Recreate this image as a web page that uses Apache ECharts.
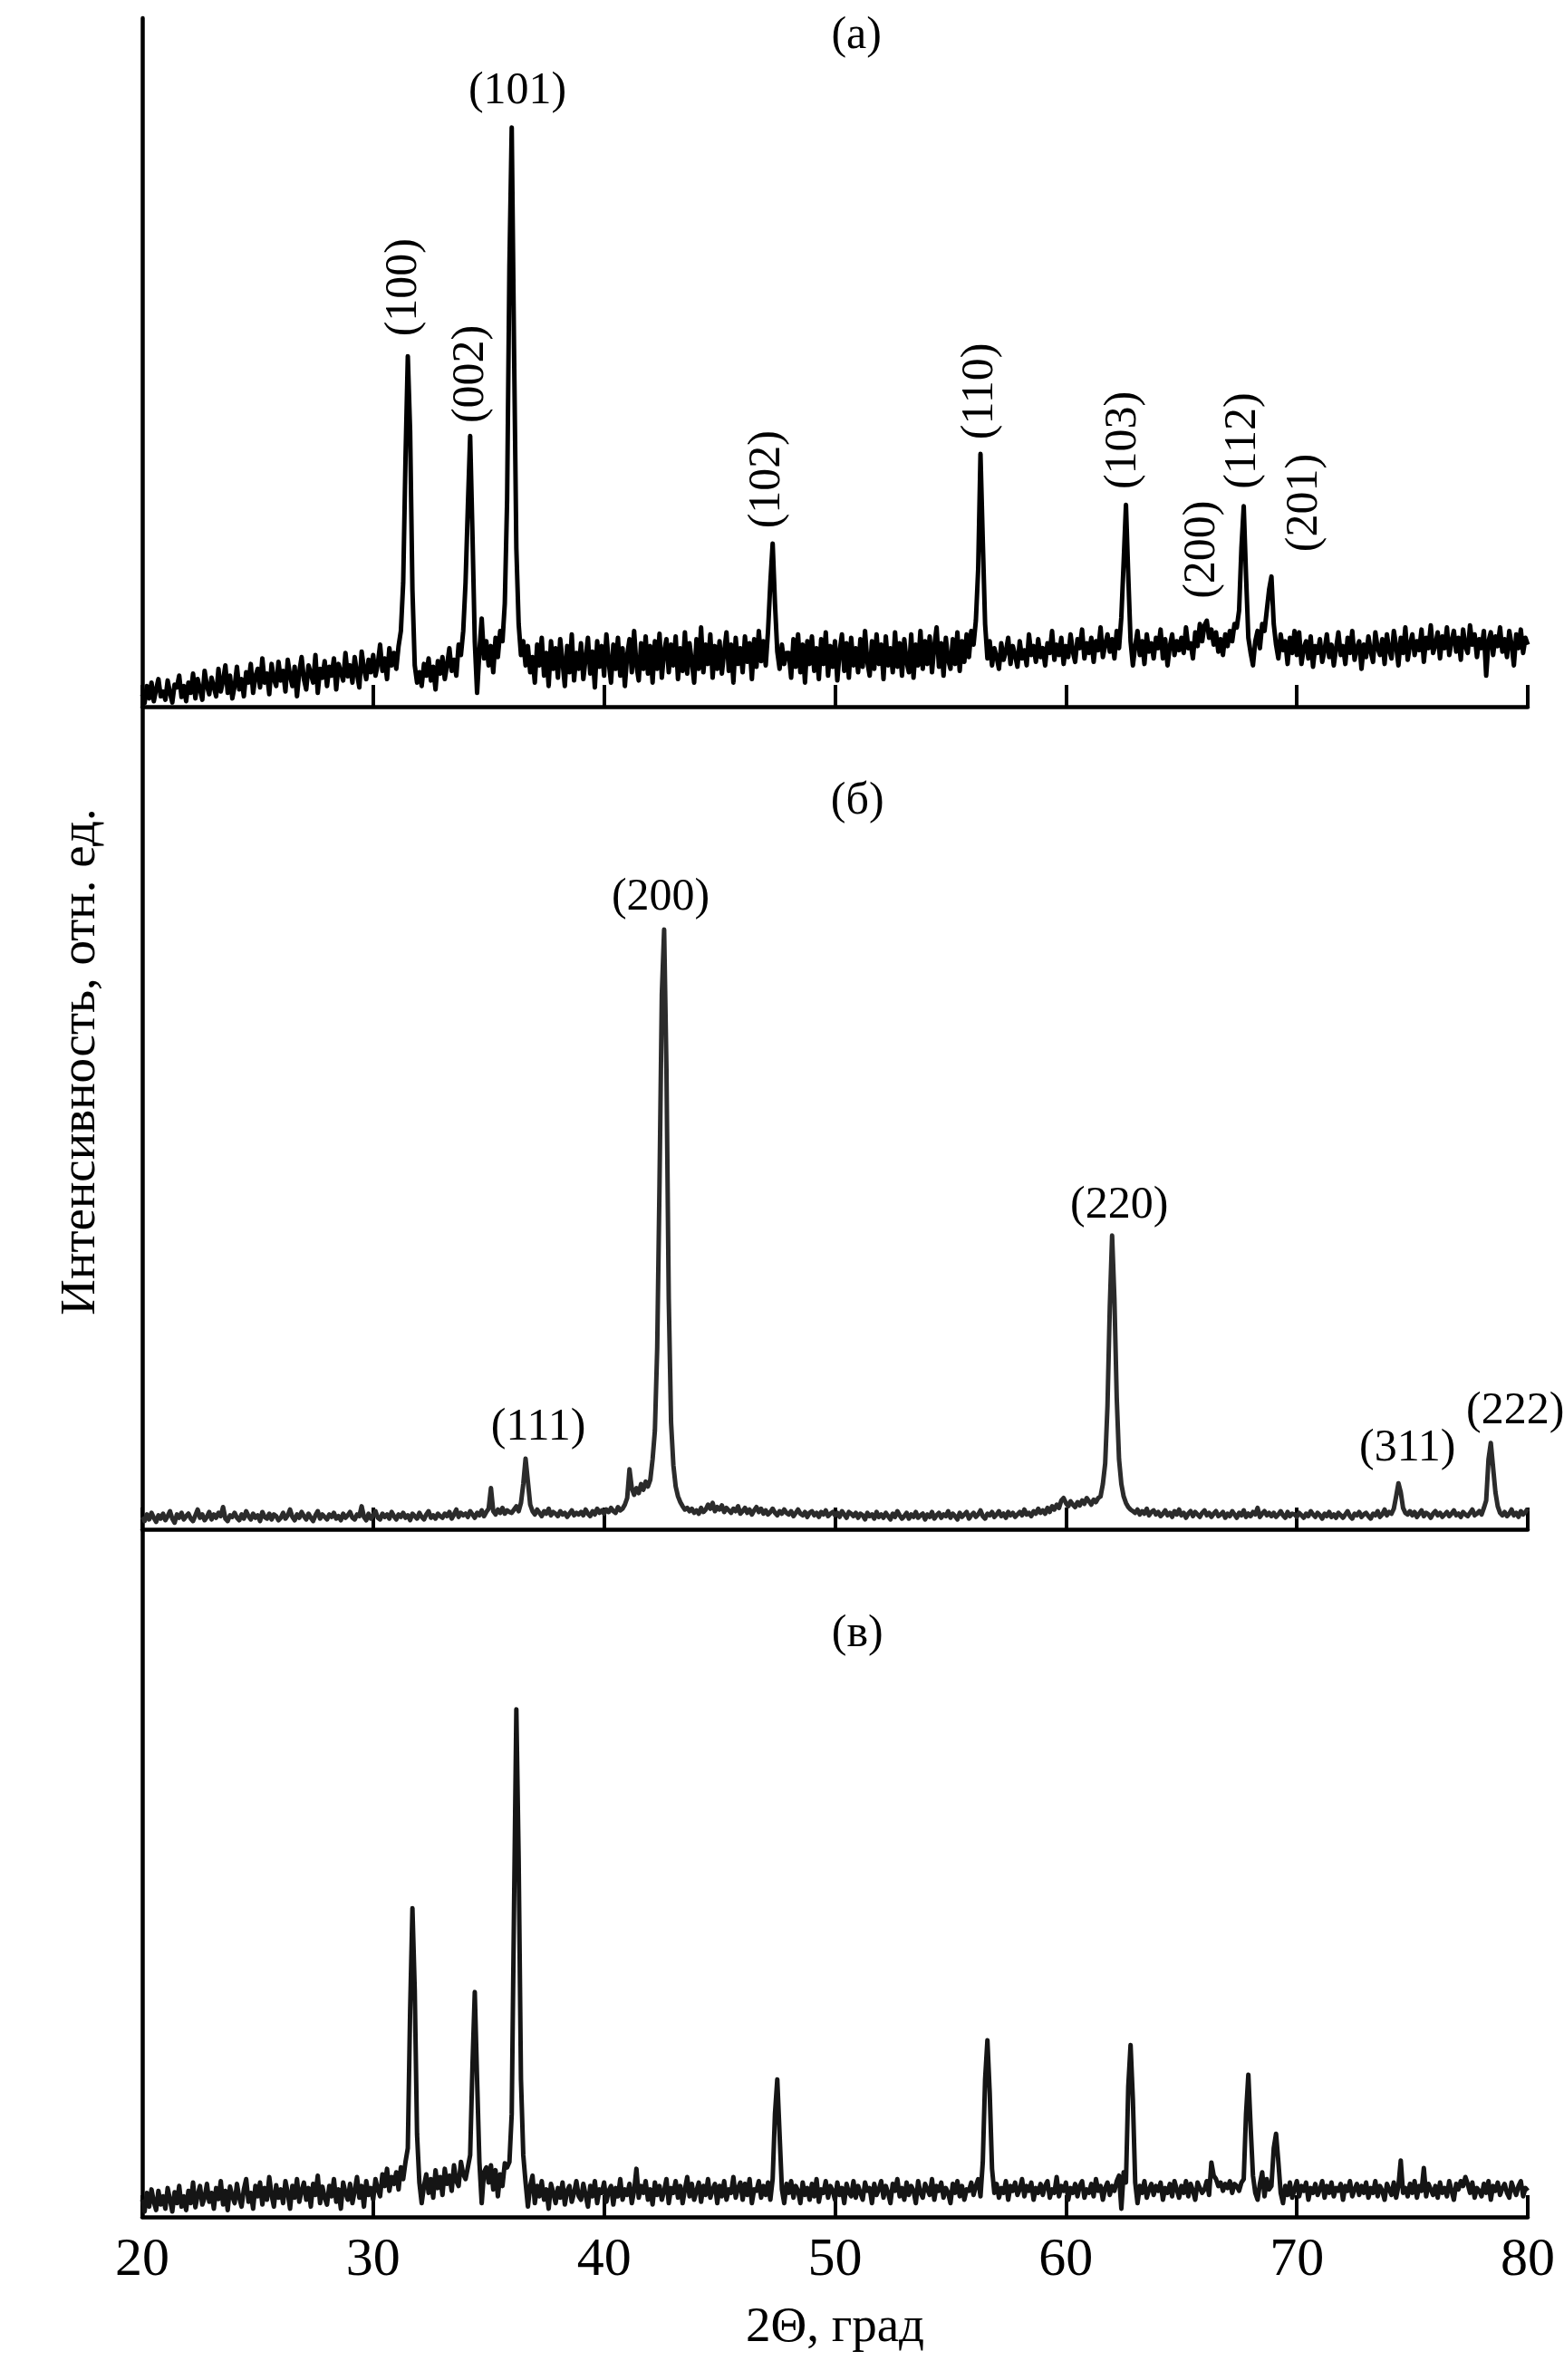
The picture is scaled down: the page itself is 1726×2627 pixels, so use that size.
<!DOCTYPE html>
<html>
<head>
<meta charset="utf-8">
<script src="https://cdn.jsdelivr.net/npm/echarts@6/dist/echarts.min.js"></script>
<style>
html,body{margin:0;padding:0;background:#fff;}
#chart{width:1726px;height:2627px;}
</style>
</head>
<body>
<div id="chart"></div>
<script>
// 2θ grid: 20.0 .. 80.0 step 0.1 (601 samples per pattern)
const thetaStart = 20, thetaStep = 0.1;
const xTicks = [20, 30, 40, 50, 60, 70, 80];

// Pattern (а) intensities, rows of 1°
const intensA = [
18,5,30,12,35,8,25,40,15,22,
10,38,20,6,32,28,45,14,30,8,
35,20,48,12,40,25,10,52,30,18,
42,28,15,55,22,38,60,20,45,12,
30,58,25,40,15,50,35,62,20,44,
55,28,70,35,48,18,62,40,30,65,
38,52,22,68,45,30,58,15,50,72,
40,25,60,48,35,75,20,55,42,66,
30,58,45,70,25,62,50,38,78,44,
60,35,72,48,28,80,55,40,68,50,
75,45,62,90,52,70,40,85,60,78,
55,88,110,180,360,509,400,170,60,35,
50,30,62,45,70,38,58,25,66,48,
72,40,60,85,52,68,45,90,75,110,
180,290,393,250,95,20,80,128,70,95,
60,88,50,100,72,110,95,150,300,640,
841,520,230,120,75,95,60,88,50,72,
35,90,60,100,45,78,30,95,55,85,
42,98,65,30,88,50,105,38,78,55,
92,40,70,100,48,80,28,95,58,88,
45,105,65,35,90,55,100,45,85,30,
75,98,50,110,60,38,92,55,102,48,
88,35,95,55,106,42,80,98,50,90,
60,102,40,85,52,108,48,92,65,35,
98,55,115,50,90,62,105,42,88,55,
95,48,80,108,52,90,35,100,62,85,
50,102,65,92,40,98,58,110,66,95,
60,110,180,237,150,80,55,90,62,78,
78,42,98,58,105,50,90,35,95,62,
102,52,85,40,98,62,108,45,88,58,
95,38,80,105,52,92,42,100,60,85,
50,98,58,110,65,45,95,55,105,62,
90,40,102,60,85,50,108,58,92,45,
98,65,50,105,42,90,60,110,55,95,
62,102,50,88,115,58,92,45,100,68,
55,98,62,108,52,95,65,105,72,110,
90,125,200,367,240,120,70,95,60,85,
72,55,92,68,80,100,62,88,75,58,
95,70,82,60,105,75,88,65,98,72,
85,60,92,78,110,68,90,75,100,62,
88,72,105,80,65,98,85,112,70,92,
78,100,65,95,82,115,72,90,105,80,
98,70,110,85,130,210,293,190,95,60,
88,110,75,95,62,105,80,92,70,100,
85,112,70,98,60,88,105,75,95,82,
100,78,115,85,92,70,108,88,120,95,
118,125,100,112,90,108,80,98,75,105,
88,110,95,120,115,140,230,291,190,100,
78,60,95,110,85,120,110,140,170,189,
120,90,70,105,82,95,62,100,78,110,
75,108,62,85,95,70,102,58,88,78,
98,65,82,105,72,90,60,85,108,75,
88,62,100,78,110,68,85,95,55,90,
72,102,80,65,108,85,75,98,62,105,
82,70,110,88,60,100,78,115,68,90,
105,75,95,82,112,65,100,85,118,78,
90,108,70,102,85,115,75,95,110,80,
100,68,112,88,78,118,90,105,72,98,
85,110,45,95,108,75,102,88,115,80,
98,72,110,90,60,105,85,112,78,100,
90
];

// Pattern (б) intensities
const intensB = [
15,10,18,12,20,14,9,17,13,19,
11,16,22,13,8,18,14,20,12,16,
19,13,10,17,24,14,18,11,15,21,
12,18,14,20,16,27,13,10,17,15,
20,14,11,18,13,22,16,12,19,14,
17,10,21,15,13,19,12,18,16,11,
14,20,13,17,24,15,11,18,14,21,
16,12,19,14,10,17,22,13,18,15,
12,18,15,20,13,16,11,19,14,17,
21,14,12,18,16,28,15,11,19,13,
17,22,14,12,19,15,18,13,21,16,
12,18,15,20,14,17,11,19,16,13,
20,15,12,18,22,14,17,13,19,16,
14,19,16,21,13,18,24,15,20,17,
19,15,22,18,14,20,17,23,16,21,
25,50,22,18,24,20,26,19,23,21,
20,24,28,22,32,55,86,58,30,22,
18,24,20,16,22,19,25,17,21,19,
16,22,18,20,15,19,23,17,20,18,
21,17,24,19,16,22,18,25,20,23,
19,24,21,26,22,20,27,23,25,30,
38,73,50,42,50,44,55,48,58,52,
60,85,120,220,420,650,729,560,280,130,
78,52,40,33,28,24,26,22,25,20,
23,19,26,21,24,30,25,32,22,27,
24,29,21,26,23,20,25,22,28,19,
22,26,20,24,18,23,27,21,25,19,
23,18,21,25,20,17,22,19,24,20,
18,22,16,20,24,19,17,21,15,20,
22,17,20,15,21,18,23,16,19,21,
17,20,15,22,18,14,21,19,16,20,
14,19,17,12,20,16,18,13,21,15,
18,14,20,16,12,19,15,22,17,13,
16,20,13,18,15,21,14,17,19,12,
18,15,21,13,17,20,14,18,16,22,
14,19,16,12,20,15,18,21,13,17,
20,15,18,23,16,13,19,17,21,15,
18,22,16,19,14,21,17,20,15,18,
21,17,24,18,20,16,22,19,25,20,
23,19,26,21,28,24,30,26,35,38,
32,28,34,30,27,33,29,35,31,38,
34,30,36,33,38,40,55,80,150,270,
357,280,160,85,55,40,32,27,24,22,
20,24,18,22,19,25,17,21,23,18,
21,16,19,23,17,20,15,22,18,24,
17,20,14,19,22,16,21,18,15,20,
23,17,20,15,19,22,16,18,21,14,
19,16,22,18,14,20,17,23,15,19,
16,21,18,26,15,19,22,17,20,16,
20,15,18,22,17,14,21,16,19,18,
15,20,17,14,19,16,22,18,15,20,
17,13,19,16,21,15,18,14,20,17,
14,18,22,16,13,19,17,21,15,18,
20,16,13,19,17,22,15,18,24,17,
21,19,25,40,56,45,26,20,18,22,
17,21,15,19,23,16,20,18,14,19,
22,17,20,15,18,21,16,19,23,17,
19,15,21,18,16,20,24,17,19,22,
18,26,35,85,105,75,45,28,20,17,
21,16,19,24,17,20,15,22,18,21,
25
];

// Pattern (в) intensities
const intensC = [
25,8,35,15,40,22,10,38,18,30,
12,42,25,8,36,20,45,15,30,10,
38,20,50,14,32,45,18,28,48,22,
35,12,42,26,52,18,38,10,44,30,
20,48,28,15,40,55,22,35,12,45,
30,50,18,42,25,58,32,15,46,28,
40,20,52,35,12,45,28,55,22,38,
50,25,42,15,48,32,60,20,44,28,
18,45,30,55,22,40,12,50,35,25,
48,20,38,58,28,45,15,52,32,42,
25,55,40,30,62,45,70,38,58,48,
65,40,72,55,80,100,300,449,330,120,
50,20,45,62,35,55,28,68,42,58,
32,70,48,60,38,75,52,45,80,62,
55,72,90,220,327,200,80,20,65,72,
50,75,40,68,30,62,45,78,72,80,
150,450,738,520,200,90,50,15,45,60,
20,45,30,52,25,40,12,48,35,20,
42,28,50,18,38,45,22,35,52,30,
25,48,32,15,45,30,52,20,40,35,
50,22,38,45,18,42,30,55,25,40,
32,48,20,38,70,28,45,35,52,25,
40,18,50,32,45,25,38,55,20,42,
35,52,28,45,20,40,58,30,48,25,
38,50,22,45,32,55,28,40,48,20,
45,30,52,25,40,35,58,28,42,50,
25,48,32,55,20,40,38,52,28,45,
32,50,25,55,150,200,120,40,20,48,
35,52,28,45,38,20,50,32,42,25,
48,30,55,22,40,35,52,28,45,38,
25,50,32,42,20,48,35,30,52,28,
45,35,25,50,38,42,20,48,32,40,
52,28,45,35,20,48,38,55,30,42,
25,50,32,45,38,20,52,35,28,48,
40,32,55,25,45,38,50,28,42,35,
20,48,35,52,30,45,25,40,38,50,
32,45,55,30,80,200,257,180,70,35,
48,28,42,35,52,25,45,38,50,32,
40,55,30,45,38,50,25,42,35,48,
32,45,52,28,40,35,58,30,45,38,
50,25,42,35,48,30,45,52,28,40,
35,48,30,55,38,45,25,42,50,32,
45,38,52,60,12,65,50,190,250,170,
50,20,45,35,52,28,40,48,32,45,
38,50,25,42,35,48,30,52,40,28,
45,35,52,30,48,38,25,50,42,35,
40,52,32,79,60,55,45,50,38,48,
42,52,35,48,45,38,50,55,150,207,
130,60,35,25,48,65,30,55,40,45,
100,121,80,35,20,45,32,50,28,40,
52,30,45,38,50,25,42,35,48,32,
40,52,28,45,35,50,30,42,38,48,
25,45,38,52,30,40,48,32,45,35,
50,28,42,35,52,30,45,38,25,48,
40,32,50,28,45,82,35,42,30,48,
35,52,28,45,38,71,30,48,40,32,
45,28,50,35,42,30,52,38,25,48,
40,52,45,58,48,35,50,28,42,38,
30,48,35,52,25,45,38,50,32,42,
48,35,28,50,40,32,45,52,30,42,
38
];

// Peak annotations: [text, 2θ, intensity, vertical]
const peaksA = [
  ['(100)', 31.34, 609, true],
  ['(002)', 34.25, 483, true],
  ['(101)', 36.25, 893, false],
  ['(102)', 47.08, 330, true],
  ['(110)', 56.30, 458, true],
  ['(103)', 62.50, 387, true],
  ['(200)', 65.92, 228, true],
  ['(112)', 67.68, 386, true],
  ['(201)', 70.35, 296, true]
];
const peaksB = [
  ['(111)', 37.15, 124, false],
  ['(200)', 42.45, 768, false],
  ['(220)', 62.31, 393, false],
  ['(311)', 74.79, 98, false],
  ['(222)', 79.46, 143, false]
];
const peaksC = [];

const panelNames = ['(а)', '(б)', '(в)'];
const panelNamePos = [[50.93, 974], [50.97, 885], [50.97, 847]];

const xTitle = '2Θ, град';
const yTitle = 'Интенсивность, отн. ед.';

// ---------- build chart ----------
const FONT = '"Liberation Serif", "Times New Roman", serif';
const toXY = arr => arr.map((v, i) => [+(thetaStart + i * thetaStep).toFixed(1), v]);

const grids = [
  {left: 157, right: 40, top: 20, height: 760},
  {left: 157, right: 40, top: 780, height: 908},
  {left: 157, right: 40, top: 1688, height: 759}
];
const colors = ['#000000', '#2b2b2b', '#151515'];
const datasets = [intensA, intensB, intensC];
const peakSets = [peaksA, peaksB, peaksC];

const xAxes = grids.map((g, k) => ({
  type: 'value', gridIndex: k, min: xTicks[0], max: xTicks[xTicks.length - 1], interval: 10,
  axisLine: {show: true, onZero: false, lineStyle: {color: '#000', width: 4.5}},
  axisTick: {show: true, inside: true, length: 24, lineStyle: {color: '#000', width: 4}},
  axisLabel: {show: k === 2, color: '#000', fontFamily: FONT, fontSize: 60, margin: 18},
  splitLine: {show: false},
  name: k === 2 ? xTitle : '',
  nameLocation: 'middle', nameGap: 95,
  nameTextStyle: {color: '#000', fontFamily: FONT, fontSize: 55}
}));
const yAxes = grids.map((g, k) => ({
  type: 'value', gridIndex: k, min: 0, max: 1000,
  axisLine: {show: true, lineStyle: {color: '#000', width: 4.5}},
  axisTick: {show: false}, axisLabel: {show: false}, splitLine: {show: false}
}));

const series = datasets.map((d, k) => {
  const mp = peakSets[k].map(p => ({
    coord: [p[1], p[2]],
    label: {formatter: p[0], rotate: p[3] ? 90 : 0}
  }));
  mp.push({coord: panelNamePos[k], label: {formatter: panelNames[k], rotate: 0}});
  return {
    type: 'line', xAxisIndex: k, yAxisIndex: k, data: toXY(d),
    showSymbol: false, symbol: 'none', sampling: null, smooth: false,
    lineStyle: {color: colors[k], width: 5, join: 'round'},
    itemStyle: {color: colors[k]},
    silent: true, z: 2,
    markPoint: {
      symbol: 'circle', symbolSize: 0, silent: true,
      label: {show: true, position: 'inside', color: '#000', fontFamily: FONT, fontSize: 50},
      itemStyle: {color: 'transparent'},
      data: mp
    }
  };
});

const chart = echarts.init(document.getElementById('chart'), null, {renderer: 'canvas'});
chart.setOption({
  animation: false,
  backgroundColor: '#ffffff',
  grid: grids,
  xAxis: xAxes,
  yAxis: yAxes,
  series: series,
  graphic: [{
    type: 'text', x: 90, y: 1172, rotation: Math.PI / 2,
    style: {text: yTitle, fill: '#000', font: '55px ' + FONT, textAlign: 'center', textVerticalAlign: 'middle'}
  }]
});
</script>
</body>
</html>
